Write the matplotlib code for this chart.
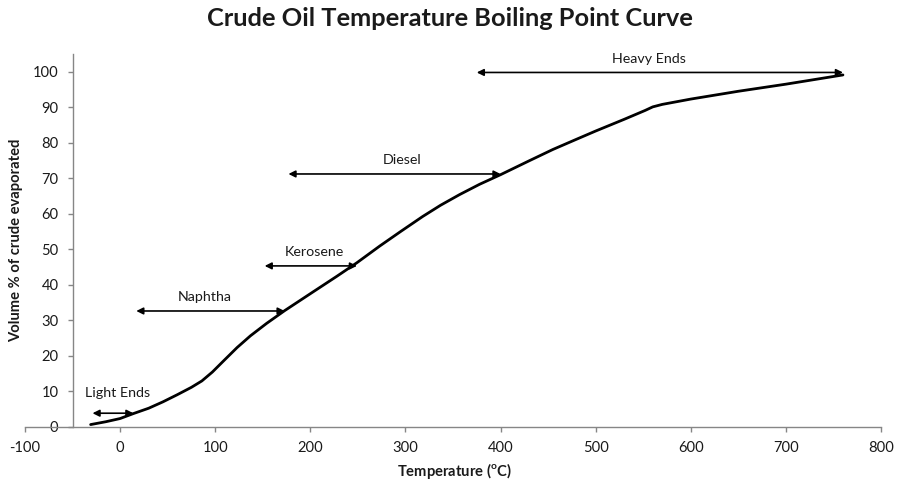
import matplotlib
matplotlib.use("Agg")
import matplotlib.pyplot as plt

plt.rcParams['font.family'] = ['Lato', 'DejaVu Sans']
plt.rcParams['mathtext.fontset'] = 'custom'
plt.rcParams['mathtext.rm'] = 'Lato:bold'
plt.rcParams['axes.unicode_minus'] = False

# Boiling point curve: temperature (°C) vs cumulative volume % evaporated
temperature = [-31, -15, 0, 14, 30, 45, 60, 75, 86, 97, 109, 123, 137, 154,
               173, 203, 228, 249, 273, 295, 318, 337, 357, 378, 400, 430, 455,
               480, 500, 530, 552, 560, 570, 600, 650, 700, 760]
volume = [0.6, 1.4, 2.3, 3.7, 5.2, 7.0, 9.0, 11.1, 12.9, 15.4, 18.6, 22.3, 25.6,
          29.1, 32.7, 38.0, 42.4, 46.2, 50.9, 55.0, 59.2, 62.4, 65.4, 68.3, 71.0,
          74.9, 78.1, 81.0, 83.3, 86.6, 89.1, 90.1, 90.8, 92.3, 94.5, 96.5, 99.1]

# Distillation cuts shown as double-headed range arrows
fractions = ['Light Ends', 'Naphtha', 'Kerosene', 'Diesel', 'Heavy Ends']
cut_start = [-29, 17, 152, 177, 375]
cut_end = [14, 173, 249, 400, 760]
cut_level = [3.8, 32.6, 45.3, 71.2, 99.8]
label_x = [-3, 89, 204, 296, 556]

x_ticks = list(range(-100, 801, 100))
y_ticks = list(range(0, 101, 10))

W, H = 899, 484
fig = plt.figure(figsize=(W / 100, H / 100), dpi=100)
ax = fig.add_axes([25 / W, 1 - 426.7 / H, 856 / W, (426.7 - 54) / H])

ax.plot(temperature, volume, color='black', lw=2.0, solid_joinstyle='round',
        solid_capstyle='round', zorder=3)

for name, x0, x1, lvl, lx in zip(fractions, cut_start, cut_end, cut_level, label_x):
    ax.annotate('', xy=(x1, lvl), xytext=(x0, lvl),
                arrowprops=dict(arrowstyle='<|-|>', color='black', lw=1.2,
                                mutation_scale=10, shrinkA=0, shrinkB=0),
                zorder=4)
    dy = 20 if name == 'Light Ends' else 13.5
    ax.annotate(name, xy=(lx, lvl), xytext=(0, dy), textcoords='offset pixels',
                ha='center', va='center', fontsize=10.3, color='#1a1a1a')

ax.set_xlim(-100, 800)
ax.set_ylim(0, 105)
ax.set_xticks(x_ticks)
ax.set_yticks(y_ticks)

ax.spines['top'].set_visible(False)
ax.spines['right'].set_visible(False)
ax.spines['left'].set_position(('data', -50))
for s in ('left', 'bottom'):
    ax.spines[s].set_color('#868686')
    ax.spines[s].set_linewidth(1.0)
ax.tick_params(axis='both', direction='out', length=3.6, width=1.0,
               color='#868686', labelsize=10.6, labelcolor='#1a1a1a', pad=6.5)

fig.text(0.5, 1 - 18 / H, 'Crude Oil Temperature Boiling Point Curve',
         ha='center', va='center', fontsize=18.3, fontweight='bold', color='#1a1a1a')
fig.text(454 / W, 1 - 471 / H, r'Temperature ($^{\mathrm{o}}$C)', ha='center',
         va='center', fontsize=10.6, fontweight='bold', color='#1a1a1a')
fig.text(16 / W, 1 - 240 / H, 'Volume % of crude evaporated', ha='center',
         va='center', rotation=90, fontsize=10.6, fontweight='bold', color='#1a1a1a')

fig.savefig('out.png', dpi=100)
